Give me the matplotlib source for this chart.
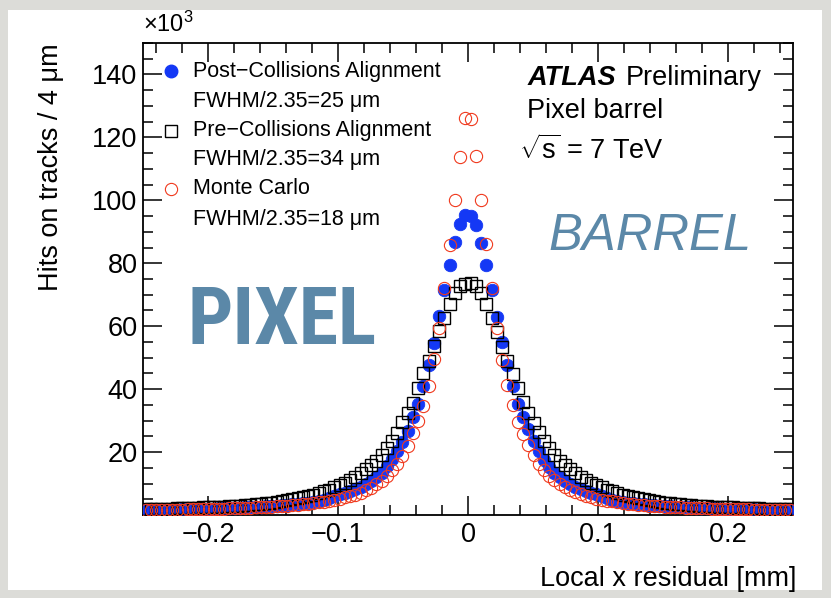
import numpy as np
import matplotlib
matplotlib.use("Agg")
import matplotlib.pyplot as plt
from matplotlib.patches import Rectangle
from matplotlib.ticker import MultipleLocator

plt.rcParams["font.family"] = ["Liberation Sans", "DejaVu Sans"]
plt.rcParams["mathtext.fontset"] = "custom"
plt.rcParams["mathtext.rm"] = "Liberation Sans"
plt.rcParams["mathtext.it"] = "Liberation Sans:italic"
plt.rcParams["mathtext.bf"] = "Liberation Sans:bold"

# Histogram binning of the local x residual [mm]
bin_edges = np.linspace(-0.25, 0.25, 125)
bin_centers = 0.5 * (bin_edges[:-1] + bin_edges[1:])

# Hits per bin (x10^3), negative side listed from -0.246 to -0.002 mm,
# positive side from 0.002 to 0.246 mm
post_left = [
    1.52, 1.57, 1.61, 1.63, 1.66, 1.71, 1.73, 1.77, 1.81, 1.84,
    1.90, 1.94, 1.99, 2.04, 2.10, 2.16, 2.22, 2.28, 2.34, 2.42,
    2.48, 2.56, 2.64, 2.74, 2.84, 2.96, 3.08, 3.22, 3.36, 3.52,
    3.72, 3.92, 4.18, 4.48, 4.88, 5.36, 5.95, 6.55, 7.15, 7.75,
    8.35, 9.05, 9.85, 10.9, 12.1, 13.5, 15.5, 17.7, 20.4, 23.3,
    26.8, 31.0, 35.4, 40.9, 47.8, 54.7, 63.4, 71.6, 79.3, 86.6,
    92.4, 95.2,
]
post_right = [
    95.0, 92.3, 86.5, 79.4, 71.5, 62.8, 55.0, 47.8, 40.9, 35.4,
    31.2, 27.2, 23.4, 20.3, 17.6, 15.4, 13.4, 12.0, 10.8, 9.8,
    9.0, 8.3, 7.7, 7.1, 6.6, 6.0, 5.4, 4.9, 4.5, 4.15,
    3.9, 3.7, 3.5, 3.35, 3.2, 3.05, 2.95, 2.85, 2.75, 2.65,
    2.55, 2.5, 2.4, 2.35, 2.3, 2.2, 2.15, 2.1, 2.05, 2.0,
    1.95, 1.9, 1.85, 1.8, 1.78, 1.74, 1.7, 1.67, 1.64, 1.6,
    1.58, 1.55,
]
pre_left = [
    1.83, 1.89, 1.92, 1.97, 2.01, 2.06, 2.11, 2.15, 2.22, 2.29,
    2.35, 2.40, 2.48, 2.55, 2.63, 2.70, 2.80, 2.90, 3.00, 3.10,
    3.26, 3.40, 3.56, 3.76, 3.96, 4.16, 4.42, 4.66, 4.96, 5.28,
    5.6, 6.0, 6.5, 7.0, 7.5, 8.1, 8.8, 9.5, 10.3, 11.2,
    12.2, 13.3, 14.5, 15.8, 17.3, 19.2, 21.3, 23.4, 26.2, 29.6,
    32.4, 35.6, 40.3, 45.1, 48.8, 53.6, 58.4, 62.6, 66.9, 70.4,
    72.7, 73.5,
]
pre_right = [
    73.6, 72.8, 70.5, 67.0, 62.7, 58.3, 53.5, 48.8, 44.9, 40.3,
    35.8, 32.3, 29.3, 26.4, 23.6, 21.3, 19.2, 17.3, 15.8, 14.5,
    13.3, 12.2, 11.2, 10.3, 9.5, 8.8, 8.1, 7.5, 7.0, 6.5,
    6.0, 5.6, 5.25, 4.95, 4.65, 4.4, 4.15, 3.95, 3.75, 3.55,
    3.4, 3.25, 3.1, 3.0, 2.9, 2.8, 2.7, 2.62, 2.54, 2.47,
    2.4, 2.34, 2.28, 2.22, 2.16, 2.1, 2.05, 2.0, 1.96, 1.92,
    1.88, 1.84,
]
mc_left = [
    1.50, 1.56, 1.58, 1.60, 1.63, 1.66, 1.70, 1.73, 1.76, 1.80,
    1.83, 1.87, 1.91, 1.96, 2.00, 2.05, 2.10, 2.16, 2.22, 2.30,
    2.36, 2.42, 2.50, 2.57, 2.66, 2.76, 2.86, 2.97, 3.10, 3.24,
    3.40, 3.58, 3.78, 4.00, 4.25, 4.55, 4.85, 5.20, 5.60, 6.00,
    6.5, 7.1, 7.9, 8.7, 9.7, 10.9, 12.4, 14.2, 16.2, 18.9,
    22.0, 26.0, 29.8, 34.6, 41.1, 49.5, 59.5, 72.2, 85.9, 100.1,
    113.8, 126.3,
]
mc_right = [
    126.0, 114.0, 100.0, 86.0, 72.0, 59.3, 49.4, 41.2, 34.8, 29.7,
    25.9, 22.1, 19.0, 16.1, 14.3, 12.5, 11.0, 9.8, 8.8, 8.0,
    7.2, 6.6, 6.0, 5.6, 5.2, 4.9, 4.6, 4.3, 4.0, 3.8,
    3.6, 3.4, 3.25, 3.1, 2.95, 2.85, 2.75, 2.65, 2.55, 2.5,
    2.4, 2.35, 2.3, 2.2, 2.15, 2.1, 2.05, 2.0, 1.95, 1.9,
    1.85, 1.82, 1.78, 1.75, 1.72, 1.68, 1.65, 1.62, 1.6, 1.57,
    1.55, 1.52,
]

post_hits = np.array(post_left + post_right)
pre_hits = np.array(pre_left + pre_right)
mc_hits = np.array(mc_left + mc_right)

legend_labels = [
    ("Post\u2212Collisions Alignment", "FWHM/2.35=25 \u03bcm"),
    ("Pre\u2212Collisions Alignment", "FWHM/2.35=34 \u03bcm"),
    ("Monte Carlo", "FWHM/2.35=18 \u03bcm"),
]
x_ticks = [-0.2, -0.1, 0.0, 0.1, 0.2]
x_tick_labels = ["\u22120.2", "\u22120.1", "0", "0.1", "0.2"]
y_ticks = [20, 40, 60, 80, 100, 120, 140]

blue = "#1438f5"
red = "#f03a1e"
steel = "#5b88a8"

W, H = 831, 598
fig = plt.figure(figsize=(W / 100, H / 100), dpi=100)
fig.patch.set_facecolor("#dcdcd8")
fig.patches.append(Rectangle((8 / W, 1 - 590 / H), (822 - 8) / W, (590 - 10) / H,
                             transform=fig.transFigure, facecolor="white",
                             edgecolor="none", zorder=-10))

ax = fig.add_axes([143 / W, 1 - 515 / H, 650 / W, 472 / H], zorder=1)
ax.set_facecolor("white")

ax.plot(bin_centers, post_hits, linestyle="none", marker="o", markersize=9.0,
        markerfacecolor=blue, markeredgecolor=blue, markeredgewidth=0.6, zorder=3)
ax.plot(bin_centers, pre_hits, linestyle="none", marker="s", markersize=9.0,
        markerfacecolor="none", markeredgecolor="black", markeredgewidth=1.0, zorder=4)
ax.plot(bin_centers, mc_hits, linestyle="none", marker="o", markersize=8.8,
        markerfacecolor="none", markeredgecolor=red, markeredgewidth=0.8, zorder=5)

ax.set_xlim(-0.25, 0.25)
ax.set_ylim(0, 150)
ax.set_xticks(x_ticks)
ax.set_xticklabels(x_tick_labels)
ax.set_yticks(y_ticks)
ax.xaxis.set_minor_locator(MultipleLocator(0.02))
ax.yaxis.set_minor_locator(MultipleLocator(5))
ax.tick_params(which="both", direction="in", top=True, right=True,
               width=1.1, labelsize=19.5, colors="black")
ax.tick_params(which="major", length=13.5)
ax.tick_params(which="minor", length=7)
ax.tick_params(axis="x", pad=5)
ax.tick_params(axis="y", pad=4)
for sp in ax.spines.values():
    sp.set_linewidth(1.3)

ax.set_ylabel("Hits on tracks / 4 \u03bcm", fontsize=19.5, loc="top")
ax.yaxis.set_label_coords(-0.122, 1.0)
ax.set_xlabel("Local x residual [mm]", fontsize=19.5, loc="right")
ax.xaxis.set_label_coords(1.005, -0.108)

ax.text(0.0, 1.012, r"$\times10^{3}$", transform=ax.transAxes, fontsize=17,
        ha="left", va="bottom")

# Legend entries drawn row by row
row_y = [0.940, 0.875, 0.814, 0.754, 0.691, 0.627]
ax.plot([0.043], [row_y[0]], marker="o", markersize=9.0, color=blue,
        transform=ax.transAxes, clip_on=False, zorder=6)
ax.plot([0.043], [row_y[2]], marker="s", markersize=9.0, markerfacecolor="none",
        markeredgecolor="black", markeredgewidth=1.0, transform=ax.transAxes,
        clip_on=False, zorder=6)
ax.plot([0.043], [row_y[4]], marker="o", markersize=8.8, markerfacecolor="none",
        markeredgecolor=red, markeredgewidth=0.8, transform=ax.transAxes,
        clip_on=False, zorder=6)
for i, (first, second) in enumerate(legend_labels):
    ax.text(0.077, row_y[2 * i], first, transform=ax.transAxes, fontsize=15.5,
            va="center", ha="left")
    ax.text(0.077, row_y[2 * i + 1], second, transform=ax.transAxes, fontsize=15.5,
            va="center", ha="left")

ax.text(0.591, 0.926, "ATLAS", transform=ax.transAxes, fontsize=19.5,
        fontweight="bold", fontstyle="italic", va="center", ha="left")
ax.text(0.742, 0.926, "Preliminary", transform=ax.transAxes, fontsize=19.5,
        va="center", ha="left")
ax.text(0.591, 0.856, "Pixel barrel", transform=ax.transAxes, fontsize=19.5,
        va="center", ha="left")
ax.text(0.578, 0.773, r"$\sqrt{\mathrm{s}}$ = 7 TeV", transform=ax.transAxes,
        fontsize=19.5, va="center", ha="left")

ax.text(0.623, 0.590, "BARREL", transform=ax.transAxes, fontsize=36.5,
        fontstyle="italic", color=steel, va="center", ha="left")
ax.text(0.069, 0.408, "PIXEL", transform=ax.transAxes, fontsize=57.5,
        fontweight="bold", fontstretch="condensed",
        family=["Roboto Condensed", "Noto Sans Condensed", "DejaVu Sans Condensed",
                "Liberation Sans Narrow", "Open Sans Condensed", "Noto Sans"],
        color=steel, va="center", ha="left")

fig.savefig("out.png", dpi=100, facecolor=fig.get_facecolor())
